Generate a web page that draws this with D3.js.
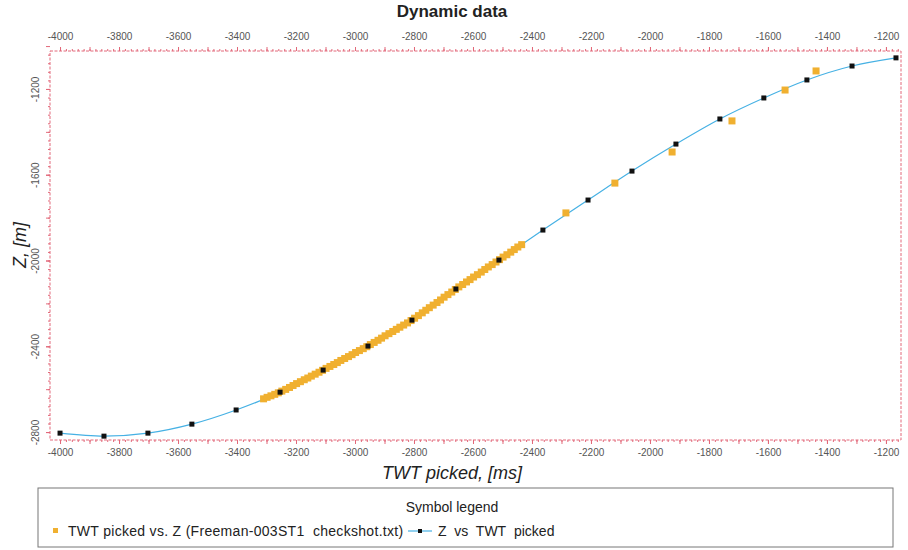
<!DOCTYPE html>
<html>
<head>
<meta charset="utf-8">
<script src="https://cdn.jsdelivr.net/npm/d3@7"></script>
<style>
body{margin:0;background:#fff;}
text{font-family:"Liberation Sans",Arial,sans-serif;}
</style>
</head>
<body>
<div id="chart"></div>
<script>
// Z vs TWT picked (well curve)
var wellTwt = [-4000,-3851,-3702,-3553,-3403,-3254,-3108,-2956,-2807,-2658,-2512,-2363,-2210,-2061,-1912,-1763,-1614,-1468,-1315,-1166];
var wellZ   = [-2805,-2819,-2805,-2763,-2697,-2614,-2511,-2399,-2278,-2133,-1998,-1858,-1718,-1583,-1457,-1340,-1242,-1158,-1093,-1055];

// checkshot points (dense band, then sparse shallow shots)
var shotTwt = [-3310,-3298,-3285,-3272,-3260,-3248,-3235,-3222,-3210,-3198,-3185,-3172,-3160,-3148,-3135,-3122,-3110,-3098,
               -3085,-3072,-3060,-3048,-3035,-3022,-3010,-2998,-2985,-2972,-2960,-2948,-2935,-2922,-2910,-2898,-2885,-2872,
               -2860,-2848,-2835,-2822,-2810,-2798,-2785,-2772,-2760,-2748,-2735,-2722,-2710,-2698,-2685,-2672,-2660,-2648,
               -2635,-2622,-2610,-2598,-2585,-2572,-2560,-2548,-2535,-2522,-2510,-2498,-2485,-2472,-2460,-2448,-2435,
               -2285,-2119,-1925,-1722,-1542,-1437];
var shotZ   = [-2645,-2638,-2631,-2624,-2617,-2609,-2601,-2592,-2583,-2574,-2565,-2556,-2548,-2539,-2530,-2521,-2512,-2503,
               -2494,-2485,-2476,-2466,-2457,-2448,-2439,-2429,-2420,-2411,-2402,-2392,-2382,-2372,-2362,-2351,-2341,-2331,
               -2321,-2311,-2301,-2291,-2280,-2269,-2257,-2244,-2232,-2220,-2208,-2196,-2184,-2171,-2159,-2147,-2135,-2123,
               -2112,-2100,-2089,-2077,-2066,-2054,-2042,-2030,-2019,-2007,-1996,-1984,-1973,-1961,-1949,-1937,-1926,
               -1778,-1639,-1494,-1349,-1205,-1116];

var xTickLabels = [-4000,-3800,-3600,-3400,-3200,-3000,-2800,-2600,-2400,-2200,-2000,-1800,-1600,-1400,-1200];
var yTickLabels = [-1200,-1600,-2000,-2400,-2800];

var width = 908, height = 550;
var frame = {left:50, right:901, top:51, bottom:440};

var svg = d3.select("#chart").append("svg")
    .attr("width", width)
    .attr("height", height);

var x = d3.scaleLinear().domain([-4034,-1149]).range([frame.left, frame.right]);
var y = d3.scaleLinear().domain([-1023,-2837]).range([frame.top, frame.bottom]);

var red = "#e2697a";
var fmt = function(d){ return String(d); };

function tickGroup(axis, tf){
    var g = svg.append("g").attr("transform", tf).call(axis);
    g.select(".domain").remove();
    g.selectAll("line").attr("stroke", red);
    g.selectAll("text").attr("fill","#555").style("font-size","10px");
    return g;
}
var xMinor = d3.range(-4000,-1150,20), xMid = d3.range(-4000,-1150,100);
var yMinor = d3.range(-1040,-2840,-40), yMid = d3.range(-1000,-2840,-200);

tickGroup(d3.axisTop(x).tickValues(xMinor).tickSize(2).tickFormat(""), "translate(0,"+frame.top+")");
tickGroup(d3.axisTop(x).tickValues(xMid).tickSize(4).tickFormat(""), "translate(0,"+frame.top+")");
tickGroup(d3.axisTop(x).tickValues(xTickLabels).tickSize(4).tickPadding(7).tickFormat(fmt), "translate(0,"+frame.top+")");

tickGroup(d3.axisBottom(x).tickValues(xMinor).tickSize(2).tickFormat(""), "translate(0,"+frame.bottom+")");
tickGroup(d3.axisBottom(x).tickValues(xMid).tickSize(4).tickFormat(""), "translate(0,"+frame.bottom+")");
tickGroup(d3.axisBottom(x).tickValues(xTickLabels).tickSize(4).tickPadding(5).tickFormat(fmt), "translate(0,"+frame.bottom+")");

tickGroup(d3.axisLeft(y).tickValues(yMinor).tickSize(2).tickFormat(""), "translate("+frame.left+",0)");
tickGroup(d3.axisLeft(y).tickValues(yMid).tickSize(4).tickFormat(""), "translate("+frame.left+",0)");
var yg = tickGroup(d3.axisLeft(y).tickValues(yTickLabels).tickSize(4).tickFormat(fmt), "translate("+frame.left+",0)");
yg.selectAll("text")
    .attr("x", null).attr("dy", null)
    .attr("text-anchor","middle")
    .attr("transform", "translate(-14,0) rotate(-90)")
    .attr("dominant-baseline","middle");

// frame
svg.append("rect")
    .attr("x", frame.left).attr("y", frame.top)
    .attr("width", frame.right-frame.left).attr("height", frame.bottom-frame.top)
    .attr("fill","none").attr("stroke", red).attr("stroke-width",1)
    .attr("stroke-dasharray","3,1.5");

// well curve line (under the checkshots)
var well = wellTwt.map(function(t,i){ return [t, wellZ[i]]; });
var line = d3.line().x(d => x(d[0])).y(d => y(d[1])).curve(d3.curveMonotoneX);
svg.append("path").datum(well)
    .attr("d", line)
    .attr("fill","none").attr("stroke","#46b1e4").attr("stroke-width",1.2);

// checkshot squares
var shots = shotTwt.map(function(t,i){ return [t, shotZ[i]]; });
svg.append("g").selectAll("rect").data(shots).enter().append("rect")
    .attr("x", d => x(d[0]) - 3.5)
    .attr("y", d => y(d[1]) - 3.5)
    .attr("width", 7).attr("height", 7)
    .attr("fill", "#f0b030");

// well points
svg.append("g").selectAll("rect").data(well).enter().append("rect")
    .attr("x", d => x(d[0]) - 2.5)
    .attr("y", d => y(d[1]) - 2.5)
    .attr("width", 5).attr("height", 5)
    .attr("fill", "#111");

// titles
svg.append("text").attr("x", 452).attr("y", 17).attr("text-anchor","middle")
    .style("font-size","17px").style("font-weight","bold").attr("fill","#222")
    .text("Dynamic data");
svg.append("text").attr("x", 452).attr("y", 479).attr("text-anchor","middle")
    .style("font-size","18px").style("font-style","italic").attr("fill","#222")
    .text("TWT picked, [ms]");
svg.append("text").attr("transform","translate(26,245) rotate(-90)").attr("text-anchor","middle")
    .style("font-size","18px").style("font-style","italic").attr("fill","#222")
    .text("Z, [m]");

// legend
var lg = svg.append("g");
lg.append("rect").attr("x",38).attr("y",488).attr("width",855).attr("height",59)
    .attr("fill","#fff").attr("stroke","#777").attr("stroke-width",1);
lg.append("text").attr("x",452).attr("y",512).attr("text-anchor","middle")
    .style("font-size","14px").attr("fill","#222").text("Symbol legend");
lg.append("rect").attr("x",53).attr("y",528).attr("width",5).attr("height",5).attr("fill","#f0b030");
lg.append("text").attr("x",68).attr("y",536)
    .style("font-size","14px").style("letter-spacing","0.3px").attr("fill","#222")
    .text("TWT picked vs. Z (Freeman-003ST1\u00a0 checkshot.txt)");
lg.append("line").attr("x1",408).attr("x2",432).attr("y1",531).attr("y2",531)
    .attr("stroke","#46b1e4").attr("stroke-width",1.2);
lg.append("rect").attr("x",418).attr("y",529).attr("width",4).attr("height",4).attr("fill","#111");
lg.append("text").attr("x",438).attr("y",536)
    .style("font-size","14px").attr("fill","#222")
    .text("Z\u00a0 vs\u00a0 TWT\u00a0 picked");
</script>
</body>
</html>
